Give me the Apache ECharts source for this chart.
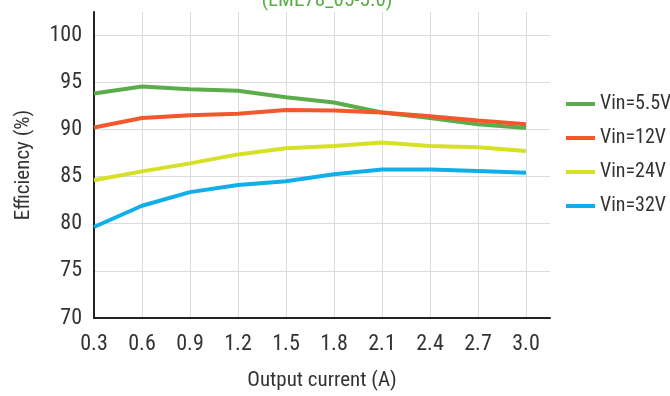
<!DOCTYPE html>
<html>
<head>
<meta charset="utf-8">
<script src="https://cdn.jsdelivr.net/npm/echarts@6/dist/echarts.min.js"></script>
<style>html,body{margin:0;padding:0;background:#fff}#c{width:670px;height:396px}</style>
</head>
<body>
<div id="c"></div>
<script>
var currents = [0.3, 0.6, 0.9, 1.2, 1.5, 1.8, 2.1, 2.4, 2.7, 3.0];
var vin55 = [93.8, 94.55, 94.25, 94.1, 93.4, 92.85, 91.8, 91.2, 90.55, 90.15];
var vin12 = [90.2, 91.2, 91.5, 91.65, 92.05, 92.0, 91.8, 91.4, 90.95, 90.55];
var vin24 = [84.6, 85.55, 86.4, 87.35, 88.0, 88.25, 88.6, 88.25, 88.1, 87.7];
var vin32 = [79.65, 81.9, 83.35, 84.1, 84.5, 85.25, 85.75, 85.75, 85.6, 85.4];
var seriesNames = ['Vin=5.5V', 'Vin=12V', 'Vin=24V', 'Vin=32V'];
var colors = ['#5BAD4B', '#F4572B', '#D6E024', '#10AFEA'];
var titleText = '(LME78_05-5.0)';

var font = '"Roboto Condensed", "Liberation Sans", sans-serif';
function pairs(vals){ return currents.map(function(x,i){ return [x, vals[i]]; }); }
var allVals = [vin55, vin12, vin24, vin32];

var chart = echarts.init(document.getElementById('c'));
chart.setOption({
  animation: false,
  color: colors,
  textStyle: {fontFamily: font},
  title: {
    text: titleText, left: 322, top: -15, textAlign: 'center',
    textStyle: {color: '#5BAD4B', fontSize: 21, fontWeight: 'normal', fontFamily: font}
  },
  grid: {left: 94, right: 120, top: 12, bottom: 73},
  legend: {
    orient: 'vertical', left: 561, top: 89, itemWidth: 29, itemHeight: 4, itemGap: 14,
    icon: 'rect',
    textStyle: {fontSize: 20, color: '#333', fontFamily: font},
    data: seriesNames
  },
  xAxis: {
    type: 'value', min: 0.3, max: 3.15, interval: 0.3,
    name: 'Output current (A)', nameLocation: 'middle', nameGap: 52,
    nameTextStyle: {fontSize: 21, color: '#333', fontFamily: font},
    axisLine: {lineStyle: {color: '#222', width: 2}},
    axisTick: {show: false},
    axisLabel: {fontSize: 22, color: '#333', margin: 15, showMaxLabel: false,
      formatter: function(v){ return v.toFixed(1); }},
    splitLine: {show: true, showMaxLine: false, showMinLine: false, lineStyle: {color: '#dcdcdc', width: 1}}
  },
  yAxis: {
    type: 'value', min: 70, max: 102.45, interval: 5,
    name: 'Efficiency (%)', nameLocation: 'middle', nameGap: 60,
    nameTextStyle: {fontSize: 21, color: '#333', fontFamily: font},
    axisLine: {show: true, lineStyle: {color: '#222', width: 2}},
    axisTick: {show: false},
    axisLabel: {fontSize: 22, color: '#333', margin: 12, showMaxLabel: false},
    splitLine: {show: true, showMaxLine: false, showMinLine: false, lineStyle: {color: '#dcdcdc', width: 1}}
  },
  series: seriesNames.map(function(n, i){
    return {
      name: n, type: 'line', data: pairs(allVals[i]), symbol: 'none',
      lineStyle: {width: 4, color: colors[i]}, itemStyle: {color: colors[i]}
    };
  })
});
</script>
</body>
</html>
